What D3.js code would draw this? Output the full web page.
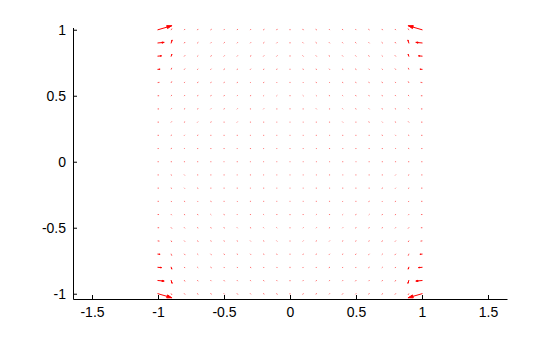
<!DOCTYPE html>
<html>
<head>
<meta charset="utf-8">
<script src="https://cdn.jsdelivr.net/npm/d3@7"></script>
<style>
  body { margin: 0; background: #fff; }
  text { font-family: "Liberation Sans", Arial, sans-serif; }
</style>
</head>
<body>
<div id="chart-container"></div>
<script>
// Quiver grid positions
const gridX = [-1, -0.9, -0.8, -0.7, -0.6, -0.5, -0.4, -0.3, -0.2, -0.1, 0, 0.1, 0.2, 0.3, 0.4, 0.5, 0.6, 0.7, 0.8, 0.9, 1];
const gridY = [1, 0.9, 0.8, 0.7, 0.6, 0.5, 0.4, 0.3, 0.2, 0.1, 0, -0.1, -0.2, -0.3, -0.4, -0.5, -0.6, -0.7, -0.8, -0.9, -1];

// Vector components (x 0.01), rows follow gridY, columns follow gridX
const uComp = [
  [10.3, 0.4, 0.3, 0.2, 0.3, 0.2, 0.3, 0.2, 0.3, 0.2, 0.0, -0.2, -0.3, -0.2, -0.3, -0.2, -0.3, -0.2, -0.3, -0.4, -10.3],
  [4.5, 0.6, 0.3, 0.3, 0.2, 0.3, 0.2, 0.2, 0.3, 0.2, 0.0, -0.2, -0.3, -0.2, -0.2, -0.3, -0.2, -0.3, -0.3, -0.6, -4.5],
  [2.5, 0.4, 0.3, 0.2, 0.3, 0.2, 0.2, 0.3, 0.2, 0.2, 0.0, -0.2, -0.2, -0.3, -0.2, -0.2, -0.3, -0.2, -0.3, -0.4, -2.5],
  [1.3, 0.3, 0.3, 0.2, 0.2, 0.3, 0.2, 0.2, 0.2, 0.1, 0.0, -0.1, -0.2, -0.2, -0.2, -0.3, -0.2, -0.2, -0.3, -0.3, -1.3],
  [0.8, 0.3, 0.2, 0.3, 0.2, 0.2, 0.2, 0.1, 0.2, 0.1, 0.0, -0.1, -0.2, -0.1, -0.2, -0.2, -0.2, -0.3, -0.2, -0.3, -0.8],
  [0.5, 0.3, 0.2, 0.2, 0.2, 0.2, 0.1, 0.2, 0.1, 0.1, 0.0, -0.1, -0.1, -0.2, -0.1, -0.2, -0.2, -0.2, -0.2, -0.3, -0.5],
  [0.4, 0.2, 0.2, 0.2, 0.1, 0.2, 0.1, 0.1, 0.1, 0.1, 0.0, -0.1, -0.1, -0.1, -0.1, -0.2, -0.1, -0.2, -0.2, -0.2, -0.4],
  [0.3, 0.2, 0.2, 0.1, 0.2, 0.1, 0.1, 0.1, 0.1, 0.0, 0.0, 0.0, -0.1, -0.1, -0.1, -0.1, -0.2, -0.1, -0.2, -0.2, -0.3],
  [0.3, 0.2, 0.1, 0.2, 0.1, 0.1, 0.1, 0.0, 0.1, 0.0, 0.0, 0.0, -0.1, 0.0, -0.1, -0.1, -0.1, -0.2, -0.1, -0.2, -0.3],
  [0.2, 0.2, 0.1, 0.1, 0.1, 0.1, 0.0, 0.1, 0.0, 0.0, 0.0, 0.0, 0.0, -0.1, 0.0, -0.1, -0.1, -0.1, -0.1, -0.2, -0.2],
  [0.2, 0.2, 0.1, 0.1, 0.1, 0.0, 0.1, 0.0, 0.0, 0.0, 0.0, 0.0, 0.0, 0.0, -0.1, 0.0, -0.1, -0.1, -0.1, -0.2, -0.2],
  [0.2, 0.2, 0.1, 0.1, 0.1, 0.1, 0.0, 0.1, 0.0, 0.0, 0.0, 0.0, 0.0, -0.1, 0.0, -0.1, -0.1, -0.1, -0.1, -0.2, -0.2],
  [0.3, 0.2, 0.1, 0.2, 0.1, 0.1, 0.1, 0.0, 0.1, 0.0, 0.0, 0.0, -0.1, 0.0, -0.1, -0.1, -0.1, -0.2, -0.1, -0.2, -0.3],
  [0.3, 0.2, 0.2, 0.1, 0.2, 0.1, 0.1, 0.1, 0.1, 0.0, 0.0, 0.0, -0.1, -0.1, -0.1, -0.1, -0.2, -0.1, -0.2, -0.2, -0.3],
  [0.4, 0.2, 0.2, 0.2, 0.1, 0.2, 0.1, 0.1, 0.1, 0.1, 0.0, -0.1, -0.1, -0.1, -0.1, -0.2, -0.1, -0.2, -0.2, -0.2, -0.4],
  [0.5, 0.3, 0.2, 0.2, 0.2, 0.2, 0.1, 0.2, 0.1, 0.1, 0.0, -0.1, -0.1, -0.2, -0.1, -0.2, -0.2, -0.2, -0.2, -0.3, -0.5],
  [0.8, 0.3, 0.2, 0.3, 0.2, 0.2, 0.2, 0.1, 0.2, 0.1, 0.0, -0.1, -0.2, -0.1, -0.2, -0.2, -0.2, -0.3, -0.2, -0.3, -0.8],
  [1.3, 0.3, 0.3, 0.2, 0.2, 0.3, 0.2, 0.2, 0.2, 0.1, 0.0, -0.1, -0.2, -0.2, -0.2, -0.3, -0.2, -0.2, -0.3, -0.3, -1.3],
  [2.5, 0.4, 0.3, 0.2, 0.3, 0.2, 0.2, 0.3, 0.2, 0.2, 0.0, -0.2, -0.2, -0.3, -0.2, -0.2, -0.3, -0.2, -0.3, -0.4, -2.5],
  [4.5, 0.6, 0.3, 0.3, 0.2, 0.3, 0.2, 0.2, 0.3, 0.2, 0.0, -0.2, -0.3, -0.2, -0.2, -0.3, -0.2, -0.3, -0.3, -0.6, -4.5],
  [10.3, 0.4, 0.3, 0.2, 0.3, 0.2, 0.3, 0.2, 0.3, 0.2, 0.0, -0.2, -0.3, -0.2, -0.3, -0.2, -0.3, -0.2, -0.3, -0.4, -10.3]
];

const vComp = [
  [3.0, 0.6, 0.3, 0.3, 0.2, 0.2, 0.3, 0.2, 0.2, 0.3, 0.2, 0.3, 0.2, 0.2, 0.3, 0.2, 0.2, 0.3, 0.3, 0.6, 3.0],
  [0.4, 2.0, 0.4, 0.3, 0.2, 0.3, 0.2, 0.2, 0.3, 0.2, 0.2, 0.2, 0.3, 0.2, 0.2, 0.3, 0.2, 0.3, 0.4, 2.0, 0.4],
  [0.2, 1.2, 0.3, 0.2, 0.2, 0.2, 0.2, 0.2, 0.2, 0.2, 0.2, 0.2, 0.2, 0.2, 0.2, 0.2, 0.2, 0.2, 0.3, 1.2, 0.2],
  [0.1, 0.8, 0.3, 0.2, 0.2, 0.2, 0.1, 0.2, 0.1, 0.2, 0.1, 0.2, 0.1, 0.2, 0.1, 0.2, 0.2, 0.2, 0.3, 0.8, 0.1],
  [0.1, 0.5, 0.2, 0.2, 0.1, 0.1, 0.1, 0.1, 0.1, 0.1, 0.1, 0.1, 0.1, 0.1, 0.1, 0.1, 0.1, 0.2, 0.2, 0.5, 0.1],
  [0.0, 0.3, 0.2, 0.1, 0.1, 0.1, 0.1, 0.1, 0.1, 0.1, 0.1, 0.1, 0.1, 0.1, 0.1, 0.1, 0.1, 0.1, 0.2, 0.3, 0.0],
  [0.0, 0.2, 0.1, 0.1, 0.1, 0.1, 0.1, 0.0, 0.1, 0.0, 0.1, 0.0, 0.1, 0.0, 0.1, 0.1, 0.1, 0.1, 0.1, 0.2, 0.0],
  [0.0, 0.2, 0.1, 0.1, 0.1, 0.0, 0.1, 0.0, 0.0, 0.0, 0.0, 0.0, 0.0, 0.0, 0.1, 0.0, 0.1, 0.1, 0.1, 0.2, 0.0],
  [0.0, 0.1, 0.1, 0.1, 0.0, 0.0, 0.0, 0.0, 0.0, 0.0, 0.0, 0.0, 0.0, 0.0, 0.0, 0.0, 0.0, 0.1, 0.1, 0.1, 0.0],
  [0.0, 0.1, 0.1, 0.0, 0.0, 0.0, 0.0, 0.0, 0.0, 0.0, 0.0, 0.0, 0.0, 0.0, 0.0, 0.0, 0.0, 0.0, 0.1, 0.1, 0.0],
  [0.0, 0.0, 0.0, 0.0, 0.0, 0.0, 0.0, 0.0, 0.0, 0.0, 0.0, 0.0, 0.0, 0.0, 0.0, 0.0, 0.0, 0.0, 0.0, 0.0, 0.0],
  [0.0, -0.1, -0.1, 0.0, 0.0, 0.0, 0.0, 0.0, 0.0, 0.0, 0.0, 0.0, 0.0, 0.0, 0.0, 0.0, 0.0, 0.0, -0.1, -0.1, 0.0],
  [0.0, -0.1, -0.1, -0.1, 0.0, 0.0, 0.0, 0.0, 0.0, 0.0, 0.0, 0.0, 0.0, 0.0, 0.0, 0.0, 0.0, -0.1, -0.1, -0.1, 0.0],
  [0.0, -0.2, -0.1, -0.1, -0.1, 0.0, -0.1, 0.0, 0.0, 0.0, 0.0, 0.0, 0.0, 0.0, -0.1, 0.0, -0.1, -0.1, -0.1, -0.2, 0.0],
  [0.0, -0.2, -0.1, -0.1, -0.1, -0.1, -0.1, 0.0, -0.1, 0.0, -0.1, 0.0, -0.1, 0.0, -0.1, -0.1, -0.1, -0.1, -0.1, -0.2, 0.0],
  [0.0, -0.3, -0.2, -0.1, -0.1, -0.1, -0.1, -0.1, -0.1, -0.1, -0.1, -0.1, -0.1, -0.1, -0.1, -0.1, -0.1, -0.1, -0.2, -0.3, 0.0],
  [-0.1, -0.5, -0.2, -0.2, -0.1, -0.1, -0.1, -0.1, -0.1, -0.1, -0.1, -0.1, -0.1, -0.1, -0.1, -0.1, -0.1, -0.2, -0.2, -0.5, -0.1],
  [-0.1, -0.8, -0.3, -0.2, -0.2, -0.2, -0.1, -0.2, -0.1, -0.2, -0.1, -0.2, -0.1, -0.2, -0.1, -0.2, -0.2, -0.2, -0.3, -0.8, -0.1],
  [-0.2, -1.2, -0.3, -0.2, -0.2, -0.2, -0.2, -0.2, -0.2, -0.2, -0.2, -0.2, -0.2, -0.2, -0.2, -0.2, -0.2, -0.2, -0.3, -1.2, -0.2],
  [-0.4, -2.0, -0.4, -0.3, -0.2, -0.3, -0.2, -0.2, -0.3, -0.2, -0.2, -0.2, -0.3, -0.2, -0.2, -0.3, -0.2, -0.3, -0.4, -2.0, -0.4],
  [-3.0, -0.6, -0.3, -0.3, -0.2, -0.2, -0.3, -0.2, -0.2, -0.3, -0.2, -0.3, -0.2, -0.2, -0.3, -0.2, -0.2, -0.3, -0.3, -0.6, -3.0]
];

const xTicks = [-1.5, -1, -0.5, 0, 0.5, 1, 1.5];
const yTicks = [-1, -0.5, 0, 0.5, 1];

/**************************************************
 * Rendering
 **************************************************/

const width = 560, height = 337;
const svg = d3.select("#chart-container")
  .append("svg")
  .attr("width", width)
  .attr("height", height);

const xScale = d3.scaleLinear().domain([-1.644, 1.644]).range([73, 507]);
const yScale = d3.scaleLinear().domain([-1.04, 1.017]).range([299, 27.5]);

// Build arrows (MATLAB-style quiver heads)
const alpha = 0.33, beta = 0.33;
const arrows = [];
gridY.forEach((y, i) => {
  gridX.forEach((x, j) => {
    const u = uComp[i][j] / 100, v = vComp[i][j] / 100;
    arrows.push({ x, y, u, v });
  });
});

const quiver = svg.append("g")
  .attr("stroke", "#ff0000")
  .attr("stroke-width", 1);

const arrowG = quiver.selectAll("g.arrow")
  .data(arrows)
  .enter()
  .append("g")
  .attr("class", "arrow")
  .attr("stroke-opacity", d => Math.hypot(d.u, d.v) > 0.01 ? 1 : 0.5);

// shaft
arrowG.append("path")
  .attr("fill", "none")
  .attr("stroke-linecap", "square")
  .attr("d", d => `M${xScale(d.x)},${yScale(d.y)}L${xScale(d.x + d.u)},${yScale(d.y + d.v)}`);

// head
arrowG.append("path")
  .attr("fill", d => Math.hypot(d.u, d.v) > 0.03 ? "#ff0000" : "none")
  .attr("stroke-linejoin", "round")
  .attr("d", d => {
    const tx = d.x + d.u, ty = d.y + d.v;
    const hx1 = tx - alpha * (d.u + beta * d.v);
    const hy1 = ty - alpha * (d.v - beta * d.u);
    const hx2 = tx - alpha * (d.u - beta * d.v);
    const hy2 = ty - alpha * (d.v + beta * d.u);
    const closed = Math.hypot(d.u, d.v) > 0.03 ? "Z" : "";
    return `M${xScale(hx1)},${yScale(hy1)}L${xScale(tx)},${yScale(ty)}L${xScale(hx2)},${yScale(hy2)}${closed}`;
  });

// Axes
const fmt = d => d3.format("~g")(d).replace("\u2212", "-");

const xAxis = d3.axisBottom(xScale)
  .tickValues(xTicks)
  .tickSizeInner(-4)
  .tickSizeOuter(0)
  .tickPadding(8)
  .tickFormat(fmt);

const yAxis = d3.axisLeft(yScale)
  .tickValues(yTicks)
  .tickSizeInner(-4)
  .tickSizeOuter(0)
  .tickPadding(7)
  .tickFormat(fmt);

const gx = svg.append("g")
  .attr("class", "x-axis")
  .attr("transform", `translate(0,${yScale.range()[0]})`)
  .call(xAxis);

const gy = svg.append("g")
  .attr("class", "y-axis")
  .attr("transform", `translate(${xScale.range()[0]},0)`)
  .call(yAxis);

[gx, gy].forEach(g => {
  g.select(".domain").attr("stroke", "#000");
  g.selectAll(".tick line").attr("stroke", "#000");
  g.selectAll(".tick text")
    .attr("fill", "#000")
    .attr("font-size", "14px")
    .attr("font-family", "Liberation Sans, Arial, sans-serif");
});
</script>
</body>
</html>
